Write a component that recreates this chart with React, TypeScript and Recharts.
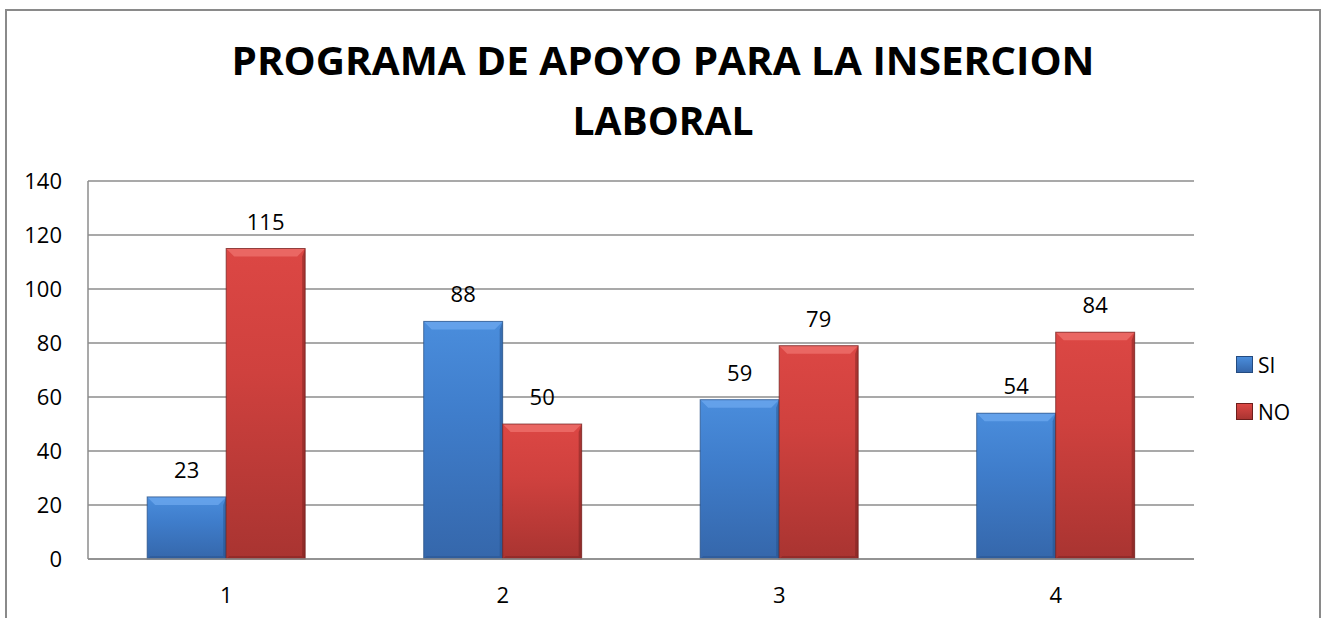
import React from 'react';
import {
  BarChart,
  Bar,
  XAxis,
  YAxis,
  CartesianGrid,
  Legend,
  LabelList,
} from 'recharts';

// datos
const categories = ['1', '2', '3', '4'];
const siValues = [23, 88, 59, 54];
const noValues = [115, 50, 79, 84];
const yTicks = [0, 20, 40, 60, 80, 100, 120, 140];
const seriesOrder = ['SI', 'NO'];

const data = categories.map((c, i) => ({ cat: c, SI: siValues[i], NO: noValues[i] }));

const FONT = '"Open Sans", "Liberation Sans", sans-serif';
const GRID = '#8c8c8c';

const palette: Record<string, { top: string; mid: string; bot: string; bevel: string; edge: string }> = {
  SI: { top: '#4a8ddc', mid: '#3f7dcb', bot: '#3567ab', bevel: '#6aa6ee', edge: '#244b80' },
  NO: { top: '#dc4744', mid: '#cf413e', bot: '#a93431', bevel: '#ee6f6b', edge: '#6e1e1c' },
};

// barra con bisel tipo Excel
function BevelBar(props: any) {
  const { x, y, width, height, dataKey } = props;
  if (!height || height <= 0) return null;
  const c = palette[dataKey];
  const b = Math.min(8, height / 2);
  return (
    <g>
      <rect x={x} y={y} width={width} height={height} fill={`url(#grad-${dataKey})`} />
      <polygon
        points={`${x},${y} ${x + width},${y} ${x + width - b},${y + b} ${x + b},${y + b}`}
        fill={c.bevel}
        opacity={0.8}
      />
      <polygon
        points={`${x + width},${y} ${x + width},${y + height} ${x + width - 3},${y + height - 3} ${x + width - 3},${y + b}`}
        fill={c.edge}
        opacity={0.45}
      />
      <polygon
        points={`${x},${y + height} ${x + width},${y + height} ${x + width - 3},${y + height - 3} ${x + 3},${y + height - 3}`}
        fill={c.edge}
        opacity={0.35}
      />
      <rect x={x} y={y} width={width} height={height} fill="none" stroke={c.edge} strokeWidth={1} opacity={0.7} />
    </g>
  );
}

function LegendBox({ payload }: any) {
  const items = [...(payload || [])].sort(
    (a: any, b: any) => seriesOrder.indexOf(a.dataKey) - seriesOrder.indexOf(b.dataKey),
  );
  return (
    <div style={{ fontFamily: FONT, fontSize: 21, color: '#000' }}>
      {items.map((p: any) => {
        const c = palette[p.dataKey];
        return (
          <div key={p.value} style={{ display: 'flex', alignItems: 'center', height: 47 }}>
            <span
              style={{
                display: 'inline-block',
                width: 15,
                height: 15,
                background: `linear-gradient(${c.top}, ${c.bot})`,
                border: `1px solid ${c.edge}`,
                marginRight: 5,
              }}
            />
            {p.value}
          </div>
        );
      })}
    </div>
  );
}

export default function App() {
  return (
    <div style={{ position: 'absolute', left: 0, top: 0, width: 1321, height: 618, background: '#fff', overflow: 'hidden' }}>
      <div
        style={{
          position: 'absolute',
          left: 5,
          top: 9,
          width: 1312,
          height: 700,
          border: '2px solid #8a8a8a',
        }}
      />
      <svg style={{ position: 'absolute', left: 0, top: 0 }} width={1321} height={150}>
        <text
          x={663}
          y={75}
          textAnchor="middle"
          fontFamily={FONT}
          fontWeight={700}
          fontSize={39}
          textLength={863}
          lengthAdjust="spacingAndGlyphs"
        >
          PROGRAMA DE APOYO PARA LA INSERCION
        </text>
        <text
          x={663}
          y={135}
          textAnchor="middle"
          fontFamily={FONT}
          fontWeight={700}
          fontSize={39}
          textLength={181}
          lengthAdjust="spacingAndGlyphs"
        >
          LABORAL
        </text>
      </svg>
      <div style={{ position: 'absolute', left: 0, top: 0 }}>
        <BarChart
          width={1321}
          height={618}
          data={data}
          margin={{ top: 181, right: 127, left: 8, bottom: 0 }}
          barCategoryGap="21.4%"
          barGap={0}
        >
          <defs>
            {Object.keys(palette).map((k) => (
              <linearGradient key={k} id={`grad-${k}`} x1="0" y1="0" x2="0" y2="1">
                <stop offset="0%" stopColor={palette[k].top} />
                <stop offset="40%" stopColor={palette[k].mid} />
                <stop offset="100%" stopColor={palette[k].bot} />
              </linearGradient>
            ))}
          </defs>
          <CartesianGrid vertical={false} stroke={GRID} strokeWidth={1.5} />
          <XAxis
            dataKey="cat"
            height={59}
            axisLine={{ stroke: GRID, strokeWidth: 1.5 }}
            tickLine={false}
            tickSize={0}
            tickMargin={28}
            tick={{ fontSize: 22, fill: '#000', fontFamily: FONT }}
          />
          <YAxis
            width={80}
            domain={[0, 140]}
            ticks={yTicks}
            interval={0}
            axisLine={{ stroke: GRID, strokeWidth: 1.5 }}
            tickLine={false}
            tickSize={0}
            tickMargin={26}
            tick={{ fontSize: 22, fill: '#000', fontFamily: FONT }}
          />
          <Legend
            layout="vertical"
            align="center"
            verticalAlign="middle"
            content={<LegendBox />}
            wrapperStyle={{ left: 1236, top: 341, width: 80 }}
          />
          <Bar dataKey="SI" name="SI" shape={<BevelBar />} isAnimationActive={false}>
            <LabelList dataKey="SI" position="top" offset={19} style={{ fontSize: 22, fill: '#000', fontFamily: FONT }} />
          </Bar>
          <Bar dataKey="NO" name="NO" shape={<BevelBar />} isAnimationActive={false}>
            <LabelList dataKey="NO" position="top" offset={19} style={{ fontSize: 22, fill: '#000', fontFamily: FONT }} />
          </Bar>
        </BarChart>
      </div>
    </div>
  );
}
